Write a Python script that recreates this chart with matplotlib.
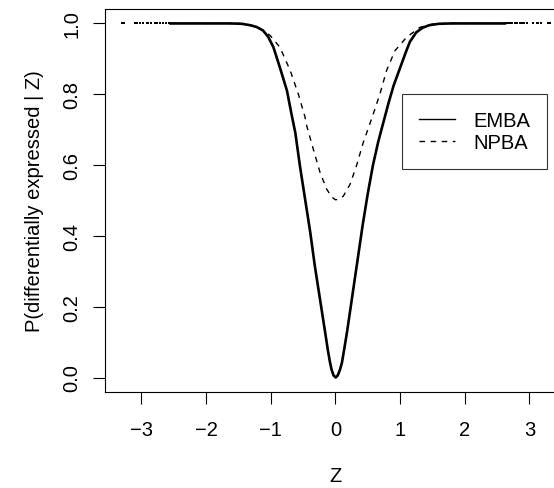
import matplotlib
matplotlib.use('Agg')
import matplotlib.pyplot as plt
from matplotlib.lines import Line2D

plt.rcParams['font.family'] = ['Liberation Sans', 'DejaVu Sans']

# values
emba_z = [-2.55, -1.63, -1.45, -1.32, -1.22, -1.12, -1.04, -0.96, -0.86, -0.75, -0.68,
          -0.62, -0.55, -0.47, -0.39, -0.32, -0.24, -0.16, -0.12, -0.085, -0.06, -0.03,
          0.003, 0.035, 0.07, 0.10, 0.135, 0.18, 0.26, 0.34, 0.42, 0.50, 0.58, 0.66,
          0.74, 0.82, 0.90, 1.00, 1.08, 1.15, 1.25, 1.35, 1.45, 1.60, 1.80, 2.62]
emba_p = [1.0, 1.0, 0.999, 0.995, 0.99, 0.98, 0.962, 0.933, 0.876, 0.81, 0.744,
          0.69, 0.598, 0.504, 0.41, 0.316, 0.222, 0.128, 0.08, 0.043, 0.022, 0.006,
          0.0, 0.006, 0.022, 0.042, 0.08, 0.13, 0.23, 0.33, 0.43, 0.52, 0.60, 0.665,
          0.72, 0.775, 0.825, 0.875, 0.915, 0.948, 0.975, 0.988, 0.995, 0.999, 1.0, 1.0]

npba_z = [-2.55, -1.5, -1.3, -1.19, -1.01, -0.86, -0.70, -0.575, -0.47, -0.445, -0.343,
          -0.24, -0.136, -0.06, 0.0, 0.06, 0.12, 0.224, 0.328, 0.43, 0.50, 0.584,
          0.688, 0.79, 0.92, 1.10, 1.306, 1.5, 1.7, 2.62]
npba_p = [1.0, 1.0, 0.995, 0.989, 0.966, 0.933, 0.867, 0.801, 0.735, 0.711, 0.645,
          0.58, 0.532, 0.51, 0.502, 0.504, 0.512, 0.545, 0.60, 0.664, 0.70, 0.744,
          0.801, 0.867, 0.923, 0.961, 0.989, 0.998, 1.0, 1.0]

# sparse points in the tails
tail_z = [-3.295, -3.264, -3.099, -3.068, -3.022, -2.971, -2.918, -2.893, -2.852,
          -2.790, -2.759, -2.713, -2.666, -2.620, -2.574,
          2.635, 2.666, 2.697, 2.728, 2.774, 2.805, 2.852, 2.883, 2.921, 2.955,
          3.053, 3.110, 3.134, 3.172, 3.289, 3.315]
tail_p = [1.0] * len(tail_z)

xticks = [-3, -2, -1, 0, 1, 2, 3]
yticks = [0.0, 0.2, 0.4, 0.6, 0.8, 1.0]

fig = plt.figure(figsize=(5.54, 4.89), dpi=100)
ax = fig.add_axes([0.1895, 0.197, 0.8321, 0.782])

ax.plot(emba_z, emba_p, color='black', lw=1.9, solid_joinstyle='round')
ax.plot(npba_z, npba_p, color='black', lw=1.0, dashes=(4, 4))
ax.plot(tail_z, tail_p, ls='none', marker='s', ms=1.8, color='black', mew=0)

ax.set_xlim(-3.564, 3.564)
ax.set_ylim(-0.04, 1.04)
ax.set_xticks(xticks)
ax.set_xticklabels(['\u2212%d' % -t if t < 0 else '%d' % t for t in xticks])
ax.set_yticks(yticks)
ax.set_yticklabels(['%.1f' % t for t in yticks])

for s in ax.spines.values():
    s.set_linewidth(0.8)
ax.tick_params(axis='both', direction='out', length=8.6, width=0.8, labelsize=14.5)
ax.tick_params(axis='x', pad=11.5)
ax.tick_params(axis='y', pad=8.6)
for lab in ax.get_yticklabels():
    lab.set_rotation(90)
    lab.set_va('center')

ax.set_xlabel('Z', fontsize=14.5)
ax.set_ylabel('P(differentially expressed | Z)', fontsize=14.5)
ax.xaxis.set_label_coords(0.5, -0.218)
ax.xaxis.label.set_va('center')
ax.yaxis.set_label_coords(-0.152, 0.5)
ax.yaxis.label.set_va('center')

handles = [Line2D([], [], color='black', lw=1.0),
           Line2D([], [], color='black', lw=1.0, dashes=(4, 4))]
leg = ax.legend(handles, ['EMBA', 'NPBA'], loc='upper left',
                bbox_to_anchor=(0.644, 0.7785), borderaxespad=0,
                fontsize=14.5, frameon=True, fancybox=False,
                handlelength=1.8, handletextpad=0.9, borderpad=0.85,
                labelspacing=0.15)
leg.get_frame().set_edgecolor('black')
leg.get_frame().set_linewidth(0.8)

fig.savefig('out.png', dpi=100)
